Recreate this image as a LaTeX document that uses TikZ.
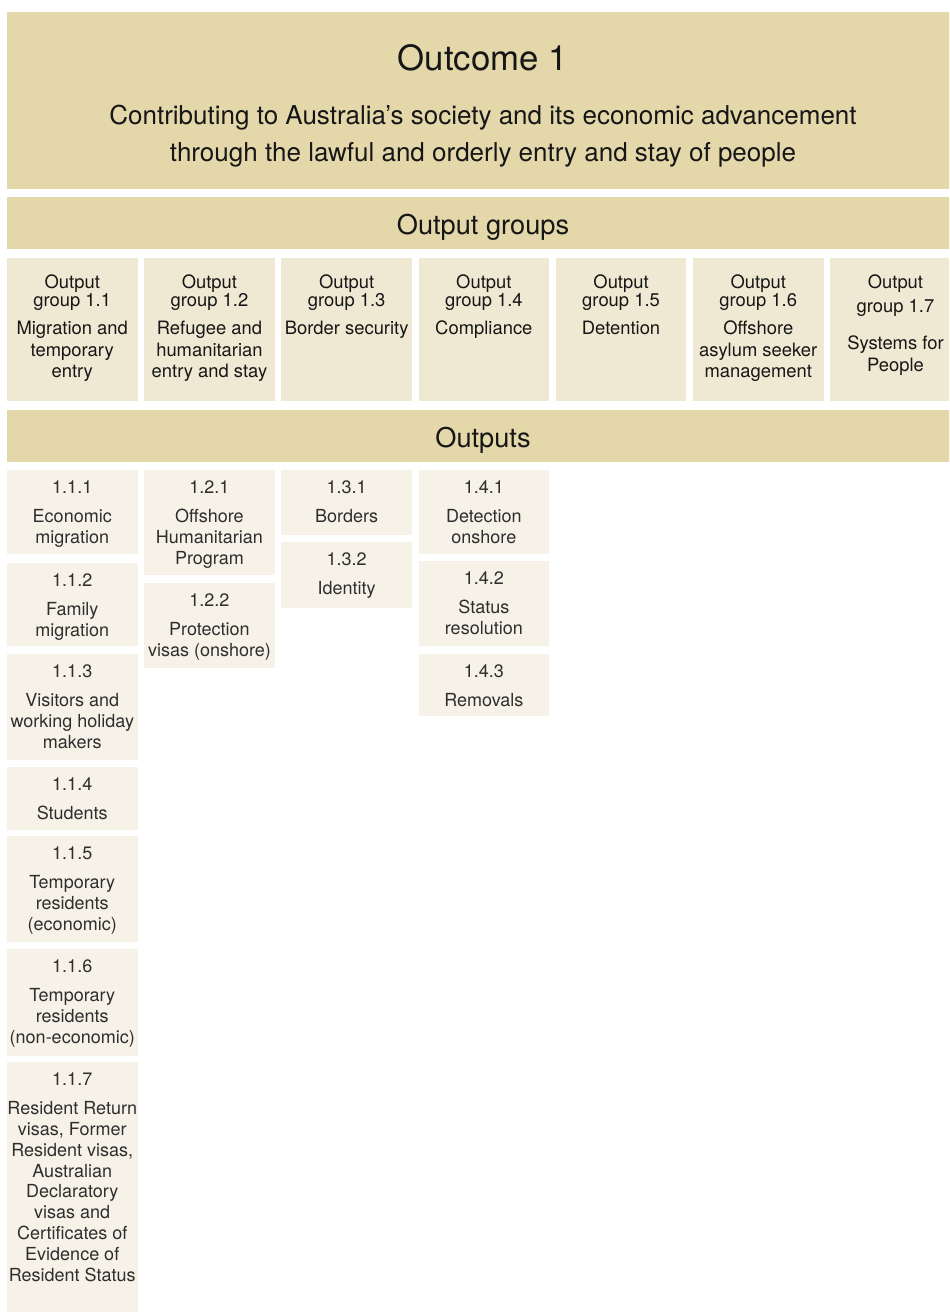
\documentclass[tikz,border=0pt]{standalone}
\usepackage{fontspec}
\setmainfont{TeX Gyre Heros}
\usetikzlibrary{positioning,fit}
\definecolor{ocband}{HTML}{E4D8AB}
\definecolor{ocgroup}{HTML}{EFE8D2}
\definecolor{ocout}{HTML}{F6F2E7}
\definecolor{ocink}{HTML}{161616}
\tikzset{
    band/.style={fill=ocband,inner sep=0pt},
    grp/.style={fill=ocgroup,inner sep=0pt},
    outp/.style={fill=ocout,inner sep=0pt},
    titletext/.style={anchor=north,align=center,inner sep=0pt,text=ocink,font=\fontsize{13}{18.7}\selectfont,yshift=-16.5pt},
    bandtext/.style={anchor=north,inner sep=0pt,text=ocink,font=\fontsize{13.6}{15}\selectfont,yshift=-8.8pt},
    grptext/.style={anchor=north,align=center,inner sep=0pt,text=ocink,font=\fontsize{9.2}{10.8}\selectfont,yshift=-8.5pt},
    outtext/.style={anchor=north,align=center,inner sep=0pt,text=black!82,font=\fontsize{9}{10.4}\selectfont,yshift=-5.3pt},
}

\begin{document}
\begin{tikzpicture}[x=0.5pt,y=-0.5pt]
    \clip (0,0) rectangle (949,1312);

    % outcome and the two bands
    \node[band,fit={(7,12)(959,189)},label={[titletext]north:{{\fontsize{17.4}{20}\selectfont Outcome 1}\\[7.9pt]Contributing to Australia’s society and its economic advancement\\through the lawful and orderly entry and stay of people}}] (outcome) {};
    \node[band,fit={(7,197)(959,249)},label={[bandtext]north:Output groups}] (groupbar) {};
    \node[band,fit={(7,410)(959,462)},label={[bandtext]north:Outputs}] (outputbar) {};

    % output groups
    \node[grp,fit={(7,258)(137.5,401)},label={[grptext]north:{Output\\[-1.8pt]group 1.1\\[3.2pt]Migration and\\temporary\\entry}}] (g11) {};
    \node[grp,fit={(144.2,258)(274.7,401)},label={[grptext]north:{Output\\[-1.8pt]group 1.2\\[3.2pt]Refugee and\\humanitarian\\entry and stay}}] (g12) {};
    \node[grp,fit={(281.4,258)(411.9,401)},label={[grptext]north:{Output\\[-1.8pt]group 1.3\\[3.2pt]Border security}}] (g13) {};
    \node[grp,fit={(418.6,258)(549.1,401)},label={[grptext]north:{Output\\[-1.8pt]group 1.4\\[3.2pt]Compliance}}] (g14) {};
    \node[grp,fit={(555.8,258)(686.3,401)},label={[grptext]north:{Output\\[-1.8pt]group 1.5\\[3.2pt]Detention}}] (g15) {};
    \node[grp,fit={(693,258)(823.5,401)},label={[grptext]north:{Output\\[-1.8pt]group 1.6\\[3.2pt]Offshore\\asylum seeker\\management}}] (g16) {};
    \node[grp,fit={(830.2,258)(960.7,401)},label={[grptext]north:{Output\\[1pt]group 1.7\\[7.9pt]Systems for\\People}}] (g17) {};

    % outputs, group 1.1
    \node[outp,fit={(7,470)(137.5,554)},label={[outtext]north:{1.1.1\\[4.3pt]Economic\\migration}}] (o111) {};
    \node[outp,fit={(7,563)(137.5,646)},label={[outtext]north:{1.1.2\\[4.3pt]Family\\migration}}] (o112) {};
    \node[outp,fit={(7,654)(137.5,760)},label={[outtext]north:{1.1.3\\[4.3pt]Visitors and\\working holiday\\makers}}] (o113) {};
    \node[outp,fit={(7,767)(137.5,830)},label={[outtext]north:{1.1.4\\[4.3pt]Students}}] (o114) {};
    \node[outp,fit={(7,836)(137.5,942)},label={[outtext]north:{1.1.5\\[4.3pt]Temporary\\residents\\(economic)}}] (o115) {};
    \node[outp,fit={(7,949)(137.5,1056)},label={[outtext]north:{1.1.6\\[4.3pt]Temporary\\residents\\(non-economic)}}] (o116) {};
    \node[outp,fit={(7,1062)(137.5,1320)},label={[outtext]north:{1.1.7\\[4.3pt]Resident Return\\visas, Former\\Resident visas,\\Australian\\Declaratory\\visas and\\Certificates of\\Evidence of\\Resident Status}}] (o117) {};

    % outputs, group 1.2
    \node[outp,fit={(144.2,470)(274.7,575)},label={[outtext]north:{1.2.1\\[4.3pt]Offshore\\Humanitarian\\Program}}] (o121) {};
    \node[outp,fit={(144.2,583)(274.7,668)},label={[outtext]north:{1.2.2\\[4.3pt]Protection\\visas (onshore)}}] (o122) {};

    % outputs, group 1.3
    \node[outp,fit={(281.4,470)(411.9,535)},label={[outtext]north:{1.3.1\\[4.3pt]Borders}}] (o131) {};
    \node[outp,fit={(281.4,542)(411.9,608)},label={[outtext]north:{1.3.2\\[4.3pt]Identity}}] (o132) {};

    % outputs, group 1.4
    \node[outp,fit={(418.6,470)(549.1,554)},label={[outtext]north:{1.4.1\\[4.3pt]Detection\\onshore}}] (o141) {};
    \node[outp,fit={(418.6,561)(549.1,646)},label={[outtext]north:{1.4.2\\[4.3pt]Status\\resolution}}] (o142) {};
    \node[outp,fit={(418.6,654)(549.1,716)},label={[outtext]north:{1.4.3\\[4.3pt]Removals}}] (o143) {};
\end{tikzpicture}
\end{document}
